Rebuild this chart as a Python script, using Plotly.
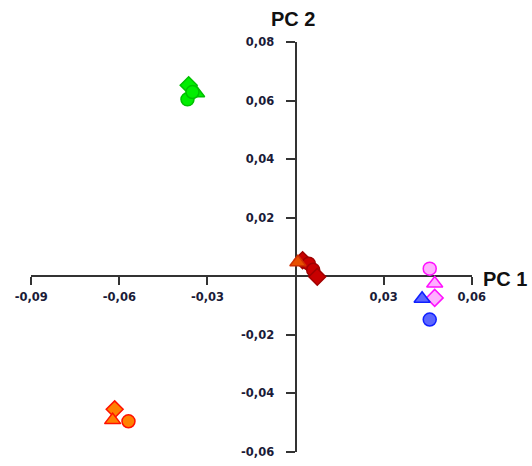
import plotly.graph_objects as go

# ---- data ----
green_pc1 = [-0.0364, -0.0337, -0.0368, -0.0351]
green_pc2 = [0.0653, 0.0626, 0.0605, 0.0630]
green_sym = ["diamond", "triangle-up", "circle", "circle"]

orange_pc1 = [-0.0616, -0.0623, -0.0569]
orange_pc2 = [-0.0455, -0.0492, -0.0496]
orange_sym = ["diamond", "triangle-up", "circle"]

pink_pc1 = [0.0457, 0.0474, 0.0474]
pink_pc2 = [0.0026, -0.0025, -0.0074]
pink_sym = ["circle", "triangle-up", "diamond"]

blue_pc1 = [0.0431, 0.0457]
blue_pc2 = [-0.0077, -0.0148]
blue_sym = ["triangle-up", "circle"]

darkred_pc1 = [0.0024, 0.0045, 0.0060, 0.0074]
darkred_pc2 = [0.0055, 0.0043, 0.0022, -0.0002]
darkred_sym = ["diamond", "circle", "circle", "diamond"]

brown_pc1 = [0.0008]
brown_pc2 = [0.0048]
brown_sym = ["triangle-up"]

x_ticks = [-0.09, -0.06, -0.03, 0.03, 0.06]
x_ticktext = ["-0,09", "-0,06", "-0,03", "0,03", "0,06"]
y_ticks = [-0.06, -0.04, -0.02, 0.02, 0.04, 0.06, 0.08]
y_ticktext = ["-0,06", "-0,04", "-0,02", "0,02", "0,04", "0,06", "0,08"]

x_range = [-0.0901, 0.0601]
y_range = [-0.0601, 0.0801]

groups = [
    (green_pc1, green_pc2, green_sym, "#00ee00", "#00c000"),
    (orange_pc1, orange_pc2, orange_sym, "#ff8000", "#ff1000"),
    (pink_pc1, pink_pc2, pink_sym, "#ffb0ff", "#ff10ff"),
    (blue_pc1, blue_pc2, blue_sym, "#5c66ff", "#1020ff"),
    (darkred_pc1, darkred_pc2, darkred_sym, "#c80000", "#a00000"),
    (brown_pc1, brown_pc2, brown_sym, "#e85000", "#d03000"),
]

fig = go.Figure()
for xs, ys, syms, fill, edge in groups:
    sizes = [14 if s == "triangle-up" else 13 for s in syms]
    fig.add_trace(go.Scatter(
        x=xs, y=ys, mode="markers",
        marker=dict(symbol=syms, size=sizes, color=fill, opacity=1,
                    line=dict(color=edge, width=1.5)),
        showlegend=False, hoverinfo="skip", cliponaxis=False,
    ))

xpos = (0 - y_range[0]) / (y_range[1] - y_range[0])
ypos = (0 - x_range[0]) / (x_range[1] - x_range[0])

tickfont = dict(family="DejaVu Sans", size=11.5, color="#1b1b38", weight="bold")

fig.update_layout(
    width=532, height=466, autosize=False,
    margin=dict(l=31, r=60, t=42, b=14),
    paper_bgcolor="white", plot_bgcolor="white",
    xaxis=dict(range=x_range, anchor="free", position=xpos,
               showgrid=False, zeroline=False, showline=True,
               linecolor="#333333", linewidth=2, layer="below traces",
               ticks="outside", ticklen=8, tickwidth=2, tickcolor="#333333",
               tickvals=x_ticks, ticktext=x_ticktext, tickfont=tickfont,
               ticklabelstandoff=2, automargin=False),
    yaxis=dict(range=y_range, anchor="free", position=ypos,
               showgrid=False, zeroline=False, showline=True,
               linecolor="#333333", linewidth=2, layer="below traces",
               ticks="outside", ticklen=9, tickwidth=2, tickcolor="#333333",
               tickvals=y_ticks, ticktext=y_ticktext, tickfont=tickfont,
               ticklabelstandoff=9, automargin=False),
    annotations=[
        dict(text="PC 1", xref="paper", yref="paper", x=1.0, y=xpos,
             xanchor="left", yanchor="middle", xshift=9, yshift=-3, showarrow=False,
             font=dict(family="Liberation Sans", size=20, color="#111111", weight="bold")),
        dict(text="PC 2", xref="paper", yref="paper", x=ypos, y=1.0,
             xanchor="center", yanchor="bottom", xshift=-3, yshift=10, showarrow=False,
             font=dict(family="Liberation Sans", size=20, color="#111111", weight="bold")),
    ],
)

fig.write_html("out.html", config={"displayModeBar": False},
               post_script="document.body.style.margin='0';")
